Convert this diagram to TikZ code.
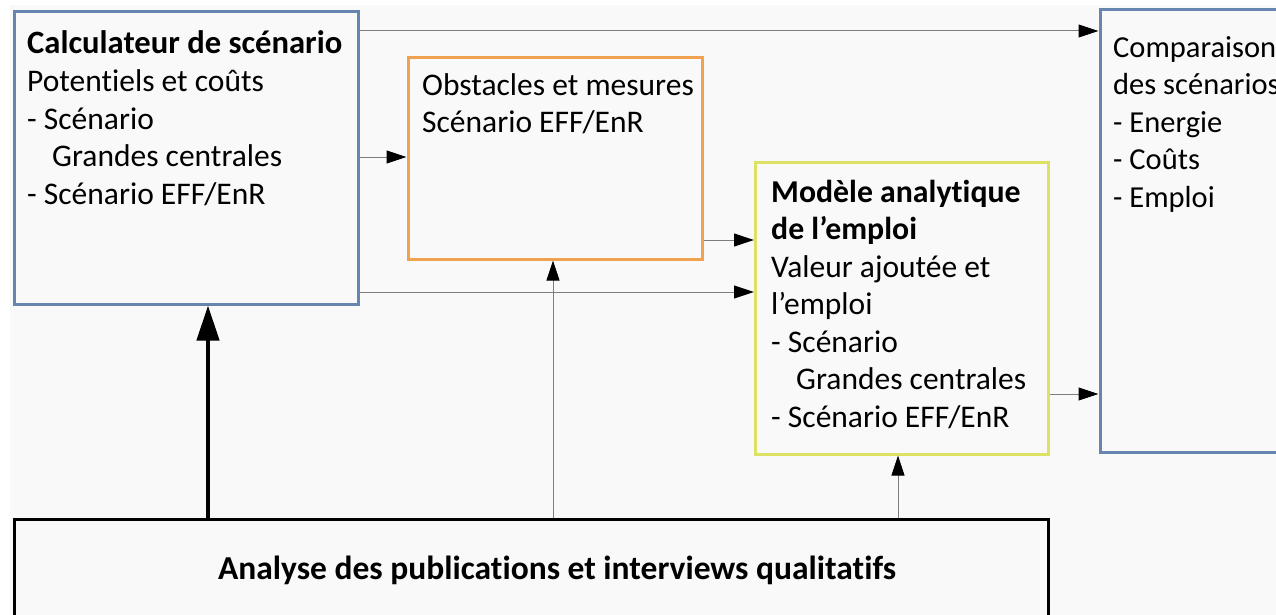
\documentclass[tikz,border=0pt]{standalone}
\usepackage{fontspec}
\setmainfont{Carlito}[Ligatures=NoCommon]
\usetikzlibrary{arrows.meta}
\definecolor{bg}{RGB}{249,249,249}
\definecolor{bblue}{RGB}{104,133,176}
\definecolor{borange}{RGB}{240,162,80}
\definecolor{byellow}{RGB}{222,226,100}
\definecolor{lgray}{RGB}{125,125,125}
\newcommand\bt[2][33.5]{{\fontsize{#1}{37.5}\selectfont\bfseries #2}}
\tikzset{
  box/.style={draw, line width=3pt, fill=bg, inner sep=0pt, anchor=north west},
  txt/.style={anchor=base west, inner sep=0pt, align=left, font=\fontsize{31.5}{37.5}\selectfont},
  conn/.style={draw=lgray, line width=1pt, -{Triangle[length=20pt,width=13pt,color=black]}},
  thick conn/.style={draw=black, line width=4.5pt, -{Triangle[length=35pt,width=22pt]}},
}
\begin{document}
\begin{tikzpicture}[x=1pt,y=-1pt]
\useasboundingbox (0,0) rectangle (1276,615);
\clip (0,0) rectangle (1276,615);
\fill[bg] (10,5) rectangle (1276,615);
\node[box, draw=bblue, minimum width=344pt, minimum height=292pt] (A) at (12.5,10.5) {};
\node[box, draw=borange, minimum width=294pt, minimum height=201pt] (B) at (406.5,56.5) {};
\node[box, draw=byellow, minimum width=293pt, minimum height=292pt] (C) at (754,160.5) {};
\node[box, draw=bblue, minimum width=300pt, minimum height=442pt] (D) at (1098.5,8.5) {};
\node[box, draw=black, line width=3.5pt, minimum width=1034pt, minimum height=150pt] (E) at (12.5,517.5) {};

% anchor base west = baseline of the last line
\node[txt] (tA) at (27,204) {\bt[32.6]{Calculateur de scénario}\\Potentiels et coûts\\- Scénario\\\hspace*{25pt}Grandes centrales\\- Scénario EFF/EnR};
\node[txt] (tB) at (422,132.5) {Obstacles et mesures\\Scénario EFF/EnR};
\node[txt] (tC) at (771,427) {\bt[31.8]{Modèle analytique}\\\bt[31.8]{de l’emploi}\\Valeur ajoutée et\\l’emploi\\- Scénario\\\hspace*{25pt}Grandes centrales\\- Scénario EFF/EnR};
\node[txt, font=\fontsize{30.5}{37.5}\selectfont] (tD) at (1113,207) {Comparaison\\des scénarios\\- Energie\\- Coûts\\- Emploi};
\node[txt, anchor=base] (tE) at (557,579) {\bt{Analyse des publications et interviews qualitatifs}};

\draw[conn] (A.east |- 0,31) -- (D.west |- 0,31);
\draw[conn] (A.east |- 0,157) -- (B.west |- 0,157);
\draw[conn] (B.east |- 0,240) -- (C.west |- 0,240);
\draw[conn] (A.east |- 0,292) -- (C.west |- 0,292);
\draw[conn] (C.east |- 0,394) -- (D.west |- 0,394);
\draw[thick conn] (E.north -| 208,0) -- (A.south -| 208,0);
\draw[conn] (E.north -| 553,0) -- (B.south -| 553,0);
\draw[conn] (E.north -| 898,0) -- (C.south -| 898,0);
\end{tikzpicture}
\end{document}
